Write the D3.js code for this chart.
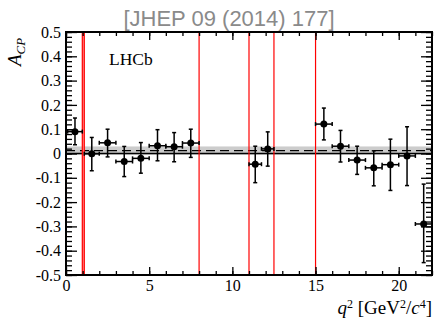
<!DOCTYPE html>
<html>
<head>
<meta charset="utf-8">
<script src="https://cdn.jsdelivr.net/npm/d3@7"></script>
<style>
  body { margin: 0; background: #fff; }
  svg { display: block; }
  .axis text { font-family: "Liberation Serif", "DejaVu Serif", serif; font-size: 16px; fill: #000; }
</style>
</head>
<body>
<div id="chart"></div>
<script>
// q2 bins and A_CP values
const binLo = [0.1, 1.1, 2, 3, 4, 5, 6, 7, 11, 11.75, 15, 16, 17, 18, 19, 20, 21];
const binHi = [0.98, 2, 3, 4, 5, 6, 7, 8, 11.75, 12.5, 16, 17, 18, 19, 20, 21, 22];
const acp = [0.09, -0.001, 0.044, -0.033, -0.02, 0.032, 0.028, 0.043, -0.044, 0.019, 0.121, 0.03, -0.027, -0.059, -0.046, -0.01, -0.29];
const errUp = [0.056, 0.067, 0.056, 0.062, 0.065, 0.066, 0.058, 0.057, 0.074, 0.07, 0.066, 0.065, 0.057, 0.07, 0.105, 0.12, 0.164];
const errDown = [0.054, 0.07, 0.058, 0.062, 0.061, 0.062, 0.062, 0.059, 0.076, 0.071, 0.065, 0.065, 0.059, 0.074, 0.106, 0.122, 0.159];

const phiBand = [0.98, 1.1];
const vetoLines = [8, 11, 12.5, 15];
const average = 0.012;
const averageErr = 0.017;

const xTicks = [0, 5, 10, 15, 20];
const yTicks = [-0.5, -0.4, -0.3, -0.2, -0.1, 0, 0.1, 0.2, 0.3, 0.4, 0.5];

const W = 435, H = 320;
const margin = { top: 32, right: 3, bottom: 45, left: 66 };
const width = W - margin.left - margin.right;
const height = H - margin.top - margin.bottom;

const $svg = d3.select('#chart').append('svg')
  .attr('width', W)
  .attr('height', H);

// title
$svg.append('text')
  .attr('x', 229)
  .attr('y', 26)
  .attr('text-anchor', 'middle')
  .attr('font-family', '"Liberation Sans", Arial, sans-serif')
  .attr('font-size', 22)
  .attr('fill', '#8a8a8a')
  .text('[JHEP 09 (2014) 177]');

const $plot = $svg.append('g')
  .attr('transform', `translate(${margin.left}, ${margin.top})`);

const x = d3.scaleLinear().domain([0, 22]).range([0, width]);
const y = d3.scaleLinear().domain([-0.5, 0.5]).range([height, 0]);

const data = acp.map((v, i) => ({
  lo: binLo[i], hi: binHi[i], mid: (binLo[i] + binHi[i]) / 2,
  v, up: v + errUp[i], down: v - errDown[i]
}));

// average band
$plot.append('rect')
  .attr('x', 0)
  .attr('width', width)
  .attr('y', y(average + averageErr))
  .attr('height', y(average - averageErr) - y(average + averageErr))
  .attr('fill', '#cccccc');

$plot.append('line')
  .attr('x1', 0).attr('x2', width)
  .attr('y1', y(0)).attr('y2', y(0))
  .attr('stroke', '#000').attr('stroke-width', 1.4);

$plot.append('line')
  .attr('x1', 0).attr('x2', width)
  .attr('y1', y(average)).attr('y2', y(average))
  .attr('stroke', '#000').attr('stroke-width', 1.3)
  .attr('stroke-dasharray', '9,5');

// veto regions
$plot.append('rect')
  .attr('x', x(phiBand[0]))
  .attr('width', x(phiBand[1]) - x(phiBand[0]))
  .attr('y', 0).attr('height', height)
  .attr('fill', '#ff9090');

$plot.selectAll('.veto')
  .data(phiBand.concat(vetoLines))
  .enter().append('line')
  .attr('class', 'veto')
  .attr('x1', d => x(d)).attr('x2', d => x(d))
  .attr('y1', 0).attr('y2', height)
  .attr('stroke', '#ff0000').attr('stroke-width', 1.2);

// axes: major + minor ticks, inside the frame
const fmt = d => d === 0 ? '0' : d3.format('.1f')(d).replace('\u2212', '-');

$plot.append('g').attr('class', 'axis')
  .call(d3.axisLeft(y).tickValues(yTicks).tickSize(-11).tickPadding(5).tickFormat(fmt))
  .call(g => g.select('.domain').remove());
$plot.append('g').attr('class', 'axis')
  .call(d3.axisLeft(y).ticks(50).tickSize(-6).tickFormat(''))
  .call(g => g.select('.domain').remove());
$plot.append('g').attr('class', 'axis')
  .attr('transform', `translate(${width},0)`)
  .call(d3.axisRight(y).tickValues(yTicks).tickSize(-11).tickFormat(''))
  .call(g => g.select('.domain').remove());
$plot.append('g').attr('class', 'axis')
  .attr('transform', `translate(${width},0)`)
  .call(d3.axisRight(y).ticks(50).tickSize(-6).tickFormat(''))
  .call(g => g.select('.domain').remove());

$plot.append('g').attr('class', 'axis')
  .attr('transform', `translate(0,${height})`)
  .call(d3.axisBottom(x).tickValues(xTicks).tickSize(-8).tickPadding(5).tickFormat(d3.format('d')))
  .call(g => g.select('.domain').remove());
$plot.append('g').attr('class', 'axis')
  .attr('transform', `translate(0,${height})`)
  .call(d3.axisBottom(x).ticks(22).tickSize(-4).tickFormat(''))
  .call(g => g.select('.domain').remove());
$plot.append('g').attr('class', 'axis')
  .call(d3.axisTop(x).tickValues(xTicks).tickSize(-8).tickFormat(''))
  .call(g => g.select('.domain').remove());
$plot.append('g').attr('class', 'axis')
  .call(d3.axisTop(x).ticks(22).tickSize(-4).tickFormat(''))
  .call(g => g.select('.domain').remove());

$plot.selectAll('.axis .tick line').attr('stroke', '#000').attr('stroke-width', 1.3);

// frame
$plot.append('rect')
  .attr('width', width).attr('height', height)
  .attr('fill', 'none').attr('stroke', '#000').attr('stroke-width', 2);

// data points with error bars
const $pts = $plot.append('g').selectAll('g')
  .data(data).enter().append('g')
  .attr('stroke', '#000').attr('stroke-width', 1.5);

$pts.append('line')
  .attr('x1', d => x(d.lo)).attr('x2', d => x(d.hi))
  .attr('y1', d => y(d.v)).attr('y2', d => y(d.v));
$pts.append('line')
  .attr('x1', d => x(d.mid)).attr('x2', d => x(d.mid))
  .attr('y1', d => y(d.up)).attr('y2', d => y(d.down));
// end caps
$pts.selectAll('.capv')
  .data(d => [d.up, d.down].map(e => ({ x: d.mid, y: e })))
  .enter().append('line')
  .attr('x1', d => x(d.x) - 2).attr('x2', d => x(d.x) + 2)
  .attr('y1', d => y(d.y)).attr('y2', d => y(d.y));
$pts.selectAll('.caph')
  .data(d => [d.lo, d.hi].map(e => ({ x: e, y: d.v })))
  .enter().append('line')
  .attr('x1', d => x(d.x)).attr('x2', d => x(d.x))
  .attr('y1', d => y(d.y) - 2).attr('y2', d => y(d.y) + 2);
$pts.append('circle')
  .attr('cx', d => x(d.mid)).attr('cy', d => y(d.v))
  .attr('r', 3.5).attr('fill', '#000').attr('stroke', 'none');

// labels
$svg.append('text')
  .attr('x', 109).attr('y', 65)
  .attr('font-family', '"Liberation Serif", serif')
  .attr('font-size', 17.5)
  .text('LHCb');

const $ylab = $svg.append('text')
  .attr('transform', 'translate(21, 66) rotate(-90)')
  .attr('font-family', '"Liberation Serif", serif')
  .attr('font-size', 19)
  .attr('font-style', 'italic');
$ylab.append('tspan').text('A');
$ylab.append('tspan').attr('font-size', 13).attr('dy', 4).text('CP');

const $xlab = $svg.append('text')
  .attr('x', 432).attr('y', 314)
  .attr('text-anchor', 'end')
  .attr('font-family', '"Liberation Serif", serif')
  .attr('font-size', 19);
$xlab.append('tspan').attr('font-style', 'italic').text('q');
$xlab.append('tspan').attr('font-size', 12).attr('dy', -6).text('2');
$xlab.append('tspan').attr('dy', 6).text(' [GeV');
$xlab.append('tspan').attr('font-size', 12).attr('dy', -6).text('2');
$xlab.append('tspan').attr('dy', 6).text('/');
$xlab.append('tspan').attr('font-style', 'italic').text('c');
$xlab.append('tspan').attr('font-size', 12).attr('dy', -6).text('4');
$xlab.append('tspan').attr('dy', 6).text(']');
</script>
</body>
</html>
